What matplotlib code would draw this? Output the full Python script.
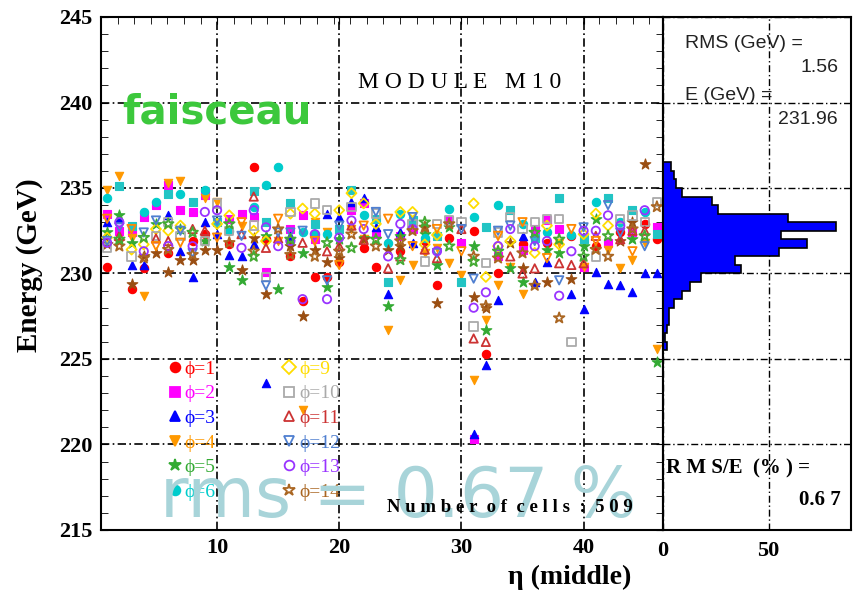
import matplotlib.pyplot as plt
import numpy as np
from matplotlib.lines import Line2D

# energy (GeV) per cell, one list of (eta, E) per phi row
phi1 = [(1, 230.4), (3, 229.1), (4, 230.3), (6, 231.2), (8, 231.9), (9, 232.3), (11, 231.7), (13, 236.2),
        (14, 232.0), (16, 231.0), (17, 228.4), (18, 229.8), (19, 229.8), (20, 230.7), (22, 231.5), (23, 230.4),
        (25, 231.3), (27, 231.9), (28, 229.3), (29, 232.1), (31, 232.5), (32, 225.3), (33, 230.0), (35, 231.7),
        (37, 231.8), (39, 232.2), (41, 231.6), (43, 232.4), (45, 232.9), (46, 232.0)]
phi2 = [(1, 233.5), (2, 232.5), (3, 232.4), (4, 233.3), (5, 234.0), (6, 235.2), (7, 233.7), (8, 233.6),
        (9, 234.6), (11, 233.2), (12, 233.5), (13, 233.3), (14, 230.1), (16, 232.6), (17, 233.4), (18, 232.0),
        (21, 233.7), (22, 234.1), (23, 232.3), (25, 232.2), (26, 232.6), (29, 233.1), (30, 231.8), (31, 220.3),
        (33, 231.0), (35, 231.4), (36, 232.6), (37, 233.1), (38, 232.6), (40, 230.4), (42, 231.8), (44, 232.4),
        (46, 232.7)]
phi3 = [(1, 233.0), (2, 233.2), (3, 230.5), (4, 230.5), (6, 233.4), (7, 231.3), (8, 229.8), (9, 233.0),
        (10, 232.3), (11, 231.1), (12, 231.0), (13, 231.7), (14, 223.6), (16, 232.2), (19, 233.5), (20, 233.3),
        (21, 234.2), (22, 234.4), (23, 232.7), (24, 228.8), (25, 232.4), (26, 231.8), (31, 220.6), (32, 224.65),
        (33, 228.45), (35, 232.2), (36, 229.5), (37, 230.7), (39, 228.8), (40, 227.9), (41, 230.1), (42, 229.4),
        (43, 229.3), (44, 228.9), (45, 230.0), (46, 230.0)]
phi4 = [(1, 234.9), (2, 235.7), (3, 232.05), (4, 228.7), (6, 235.3), (7, 235.4), (9, 234.4), (10, 234.2),
        (12, 232.8), (15, 231.9), (17, 222.0), (18, 233.0), (19, 232.4), (21, 232.6), (22, 232.0), (24, 226.7),
        (25, 229.6), (26, 230.5), (27, 231.2), (28, 231.5), (29, 230.6), (30, 229.9), (31, 223.8), (32, 227.3),
        (33, 229.3), (34, 230.4), (35, 228.8), (38, 231.8), (40, 230.4), (42, 231.4), (43, 230.3), (44, 230.8),
        (45, 231.8), (46, 225.6)]
phi5 = [(1, 232.4), (2, 233.4), (3, 231.8), (5, 232.9), (7, 232.6), (9, 231.9), (11, 230.4), (12, 229.6),
        (14, 232.2), (15, 229.1), (17, 231.2), (19, 229.2), (20, 232.0), (22, 232.1), (24, 228.1), (25, 232.2),
        (27, 232.3), (28, 230.5), (29, 232.7), (31, 231.6), (32, 226.7), (34, 230.3), (35, 229.5), (37, 231.4),
        (38, 231.2), (40, 231.6), (41, 233.2), (44, 232.0), (46, 224.8)]
phi6 = [(1, 234.4), (4, 233.6), (5, 234.2), (7, 234.65), (9, 234.9), (11, 232.5), (13, 233.9), (14, 235.2),
        (15, 236.2), (17, 232.4), (18, 232.3), (19, 232.3), (22, 233.4), (24, 231.8), (25, 233.5), (27, 232.05),
        (29, 233.8), (31, 233.3), (33, 234.0), (35, 232.9), (37, 232.4), (39, 232.25), (41, 234.2), (43, 233.0),
        (45, 233.6)]
phi7 = [(2, 235.1), (3, 232.8), (6, 234.65), (8, 234.2), (10, 233.0), (13, 234.8), (14, 233.0), (16, 234.1),
        (18, 232.9), (20, 232.6), (21, 234.9), (23, 233.2), (24, 229.5), (26, 233.1), (28, 232.2), (30, 229.5),
        (32, 232.7), (34, 233.7), (36, 232.1), (38, 234.4), (40, 232.0), (42, 234.4), (44, 233.7), (46, 232.3)]
phi8 = [(1, 231.7), (2, 231.9), (3, 229.4), (4, 231.0), (5, 231.2), (6, 230.1), (7, 230.8), (8, 230.8),
        (9, 231.4), (10, 231.4), (12, 230.2), (13, 232.05), (14, 228.8), (16, 231.6), (17, 227.5), (18, 231.4),
        (19, 230.7), (20, 230.9), (22, 232.0), (24, 231.4), (25, 231.6), (27, 232.7), (28, 228.3), (31, 228.6),
        (32, 228.0), (34, 231.8), (35, 230.3), (37, 229.5), (39, 229.7), (43, 231.9), (44, 233.0), (45, 236.4)]
phi9 = [(1, 232.1), (3, 231.4), (4, 231.7), (5, 232.6), (6, 232.5), (7, 232.8), (10, 232.9), (11, 233.4),
        (13, 232.5), (14, 231.9), (16, 233.5), (17, 233.8), (18, 233.5), (20, 233.7), (21, 234.7), (22, 234.1),
        (23, 232.9), (25, 233.6), (26, 233.6), (27, 231.7), (28, 232.25), (31, 234.1), (32, 229.8), (33, 231.6),
        (34, 231.9), (36, 231.2), (37, 232.8), (38, 231.7), (40, 232.3), (41, 233.5), (42, 232.8)]
phi10 = [(1, 231.5), (3, 231.0), (5, 232.2), (6, 233.0), (7, 232.2), (9, 231.9), (10, 234.1), (11, 232.5),
         (13, 232.8), (14, 229.8), (16, 233.6), (18, 234.1), (19, 233.7), (21, 233.9), (23, 233.5), (26, 232.9),
         (27, 230.7), (28, 232.9), (29, 233.1), (30, 233.0), (31, 226.9), (32, 230.6), (33, 232.4), (34, 233.3),
         (35, 232.6), (36, 233.0), (37, 233.2), (38, 233.2), (39, 226.0), (41, 231.0), (43, 233.2), (44, 233.4),
         (45, 233.0), (46, 234.2)]
phi11 = [(2, 232.2), (5, 232.05), (6, 231.9), (8, 232.6), (9, 232.5), (12, 232.3), (13, 234.5), (14, 231.5),
         (15, 232.05), (17, 231.8), (19, 231.3), (20, 231.6), (21, 232.8), (22, 231.96), (24, 230.3), (25, 231.0),
         (27, 231.4), (28, 230.9), (30, 232.6), (31, 226.2), (32, 226.0), (34, 231.0), (35, 230.0), (36, 230.3),
         (38, 230.6), (39, 230.5), (40, 230.6), (41, 232.2), (43, 232.0), (44, 232.5), (45, 232.5)]
phi12 = [(1, 231.9), (2, 232.7), (4, 232.4), (5, 233.1), (7, 232.5), (8, 231.2), (10, 233.1), (12, 232.2),
         (14, 229.3), (15, 232.4), (16, 232.4), (17, 232.5), (19, 229.6), (20, 232.8), (23, 233.6), (24, 232.3),
         (26, 233.3), (28, 231.2), (30, 232.6), (31, 229.7), (33, 232.5), (34, 232.8), (36, 231.9), (38, 229.6),
         (40, 232.7), (42, 234.0), (43, 232.4), (45, 231.6)]
phi13 = [(1, 231.8), (2, 233.0), (4, 231.3), (6, 231.6), (8, 231.6), (9, 233.6), (10, 233.7), (12, 231.5),
         (13, 233.7), (14, 232.7), (15, 231.6), (16, 231.9), (17, 228.5), (18, 232.3), (19, 228.5), (20, 232.1),
         (21, 233.1), (22, 232.6), (24, 231.0), (25, 232.9), (26, 232.6), (28, 231.3), (31, 228.0), (32, 228.9),
         (33, 231.6), (34, 232.6), (36, 231.6), (37, 231.9), (38, 228.7), (39, 231.3), (40, 232.5), (41, 232.5),
         (42, 233.4), (43, 232.8), (45, 233.7)]
phi14 = [(2, 231.6), (4, 230.9), (6, 231.4), (8, 231.1), (11, 231.8), (13, 231.3), (15, 232.6), (16, 231.1),
         (18, 231.0), (20, 231.3), (21, 232.3), (23, 231.6), (25, 231.9), (26, 232.5), (27, 232.7), (29, 232.9),
         (31, 231.0), (32, 228.1), (33, 230.9), (35, 231.2), (36, 229.3), (38, 227.4), (41, 231.4), (42, 231.0),
         (44, 232.6), (46, 233.9)]
phi15 = [(1, 233.2), (3, 232.6), (5, 231.6), (7, 231.8), (10, 232.1), (12, 233.0), (15, 233.2), (18, 231.9),
         (20, 230.5), (22, 232.8), (24, 233.2), (26, 231.6), (28, 232.6), (30, 231.3), (33, 232.2), (35, 233.0),
         (37, 230.9), (39, 232.6), (41, 231.9), (44, 231.3)]
phi16 = [(2, 232.0), (4, 232.1), (6, 232.9), (8, 232.4), (11, 232.9), (13, 231.0), (16, 232.0), (19, 231.8),
         (21, 231.5), (23, 232.0), (25, 230.8), (27, 233.0), (29, 231.6), (31, 230.7), (33, 231.3), (36, 232.4),
         (38, 232.0), (40, 231.0), (42, 232.2), (45, 232.2)]
series = [phi1, phi2, phi3, phi4, phi5, phi6, phi7, phi8,
          phi9, phi10, phi11, phi12, phi13, phi14, phi15, phi16]

# projection histogram (0.5 GeV bins, counts from 225.5 GeV upward)
hist_edges = np.arange(225.5, 236.51, 0.5)
hist_counts = [2, 1, 2, 3, 3, 5, 9, 13, 18, 37, 34, 55, 68, 56, 82, 59, 26, 23, 9, 6, 5, 4]

# marker, colour, filled
styles = [('o', '#ff0000', True), ('s', '#ff00ff', True), ('^', '#0000ff', True), ('v', '#ff9900', True),
          ('*', '#33aa33', True), ('o', '#00cccc', True), ('s', '#22c4c4', True), ('*', '#9a4e12', True),
          ('D', '#ffdd00', False), ('s', '#aaaaaa', False), ('^', '#cc3333', False), ('v', '#4f7fd0', False),
          ('o', '#9933ff', False), ('*', '#aa6622', False), ('v', '#ff8800', False), ('*', '#44aa33', False)]

W, H = 864, 599
fig = plt.figure(figsize=(W / 100, H / 100), dpi=100)
ax = fig.add_axes([101 / W, 69 / H, 562 / W, 513 / H])
hax = fig.add_axes([663 / W, 69 / H, 188 / W, 513 / H])

serif = ['Liberation Serif', 'DejaVu Serif']
grid_ls = (0, (5, 2, 1, 2))

for i, pts in enumerate(series):
    m, c, filled = styles[i]
    eta = [p[0] for p in pts]
    en = [p[1] for p in pts]
    s = 64 if m == '*' else 36
    if m == 'D':
        s = 26
    if filled:
        ax.scatter(eta, en, marker=m, s=s, facecolors=c, edgecolors=c, linewidths=0.8, zorder=3)
    else:
        ax.scatter(eta, en, marker=m, s=s, facecolors='none', edgecolors=c, linewidths=1.3, zorder=3)

ax.set_xlim(0.5, 46.5)
ax.set_ylim(215, 245)
ax.set_xticks([10, 20, 30, 40])
ax.set_xticks(np.arange(0.5, 46.5, 1.36), minor=True)
ax.set_yticks(range(215, 246, 5))
ax.set_yticks(range(215, 246), minor=True)
ax.tick_params(axis='y', which='both', direction='in', right=True, length=5)
ax.tick_params(axis='x', which='both', direction='in', top=True, bottom=False, length=5)
ax.tick_params(axis='both', labelsize=16, pad=6)
for lab in ax.get_xticklabels() + ax.get_yticklabels():
    lab.set_fontfamily(serif)
    lab.set_fontweight('bold')
ax.grid(True, which='major', color='black', linestyle=grid_ls, linewidth=1.2)
for sp in ax.spines.values():
    sp.set_linewidth(1.5)

# legend, only the rows that fit in the frame
idx = [0, 1, 2, 3, 4, 5, 8, 9, 10, 11, 12, 13]
handles = []
for i in idx:
    m, c, filled = styles[i]
    handles.append(Line2D([], [], linestyle='none', marker=m, markersize=7 if m != '*' else 9,
                          markerfacecolor=c if filled else 'none', markeredgecolor=c,
                          markeredgewidth=1.3))
labels = ['\u03d5=%d' % (i + 1) for i in idx]
leg = ax.legend(handles, labels, ncol=2, loc='upper left', bbox_to_anchor=(0.1, 0.35),
                frameon=False, prop={'family': serif, 'size': 14}, handlelength=0.8,
                handletextpad=0.1, columnspacing=3.4, labelspacing=0.36, borderpad=0)
for t, i in zip(leg.get_texts(), idx):
    t.set_color(styles[i][1])

# histogram panel
hax.stairs(hist_counts, hist_edges, orientation='horizontal', fill=True, color='#0000ff', zorder=2)
hax.stairs(hist_counts, hist_edges, orientation='horizontal', color='black', linewidth=1.2, zorder=3)
hax.set_xlim(0, 89)
hax.set_ylim(215, 245)
hax.set_xticks([0, 50])
hax.set_yticks(range(215, 246, 5))
hax.tick_params(axis='y', length=0, labelleft=False)
hax.tick_params(axis='x', length=0, labelsize=16, pad=8)
for lab in hax.get_xticklabels():
    lab.set_fontfamily(serif)
    lab.set_fontweight('bold')
hax.grid(True, color='black', linestyle=grid_ls, linewidth=1.0)
for sp in hax.spines.values():
    sp.set_linewidth(1.5)

# texts
def px(x, y):
    return x / W, 1 - y / H

fig.text(*px(460, 82), 'M O D U L E   M 1 0', ha='center', va='center', fontsize=17, family=serif)
fig.text(*px(122, 112), 'faisceau', ha='left', va='center', fontsize=29, fontweight='bold',
         color='#3cc83c', family='DejaVu Sans')
fig.text(*px(398, 497), 'rms = 0.67 %', ha='center', va='center', fontsize=50,
         color='#a8d4d9', family='DejaVu Sans', zorder=10)
fig.text(*px(510, 508), 'N u m b e r  o f  c e l l s  :  5 0 9', ha='center', va='center', fontsize=13.5,
         fontweight='bold', family=serif, zorder=11)
fig.text(*px(685, 43), 'RMS (GeV) =', ha='left', va='center', fontsize=14, color='#222222', family='Liberation Sans')
fig.text(*px(838, 68), '1.56', ha='right', va='center', fontsize=14, color='#222222', family='Liberation Sans')
fig.text(*px(685, 96), 'E (GeV) =', ha='left', va='center', fontsize=14, color='#222222', family='Liberation Sans')
fig.text(*px(838, 120), '231.96', ha='right', va='center', fontsize=14, color='#222222', family='Liberation Sans')
fig.text(*px(666, 468), 'R M S/E  (% ) =', ha='left', va='center', fontsize=15, fontweight='bold', family=serif)
fig.text(*px(841, 500), '0.6 7', ha='right', va='center', fontsize=15, fontweight='bold', family=serif)
fig.text(*px(30, 265), 'Energy (GeV)', ha='center', va='center', rotation=90, fontsize=21,
         fontweight='bold', family=serif)
fig.text(*px(570, 577), '\u03b7 (middle)', ha='center', va='center', fontsize=20, fontweight='bold', family=serif)

fig.savefig('out.png', dpi=100)
